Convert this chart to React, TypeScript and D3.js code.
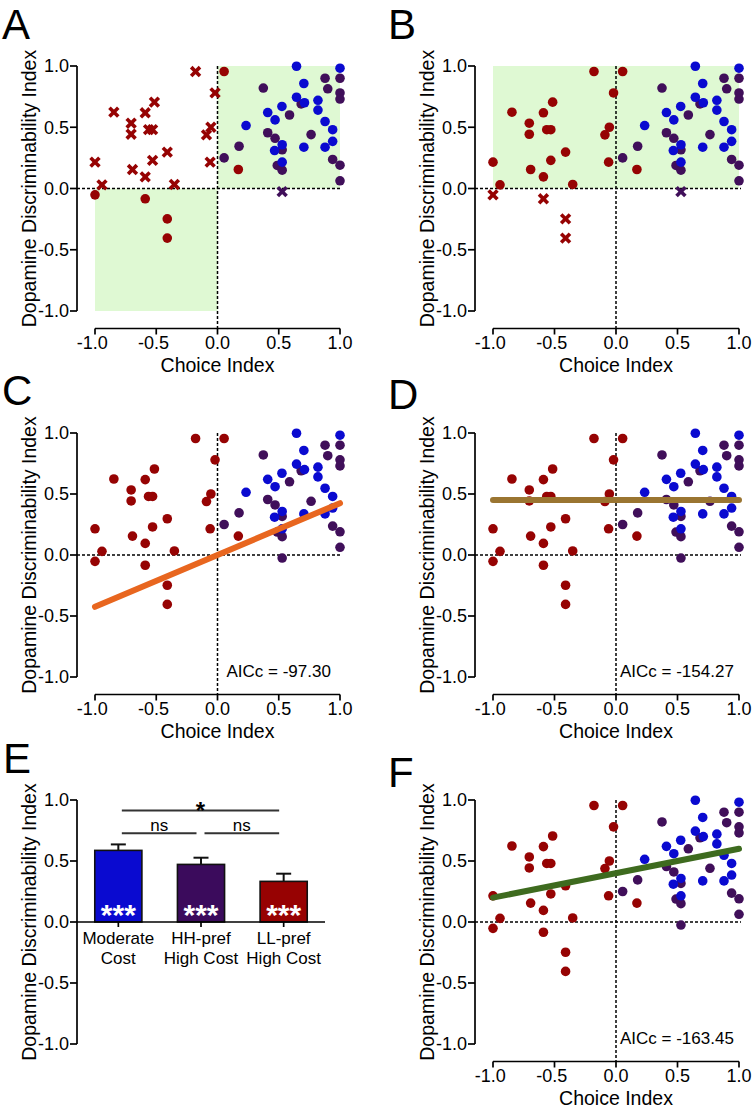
import React from 'react';
import * as d3 from 'd3';

// ---------- DATA ----------
// Low-cost-preferring (LL-pref high cost) animals: dark red
const redX = [-1.0, -0.943, -0.846, -0.705, -0.705, -0.694, -0.59, -0.59, -0.563, -0.53, -0.515, -0.53, -0.41, -0.352, -0.179, -0.02, -0.054, -0.09, -0.06, 0.054, 0.17, -1.0, -0.59, -0.41, -0.41];
const redY = [0.215, 0.03, 0.623, 0.533, 0.443, 0.155, 0.618, 0.095, 0.48, 0.48, 0.705, 0.23, 0.297, 0.033, 0.955, 0.78, 0.5, 0.438, 0.215, 0.955, 0.155, -0.052, -0.084, -0.248, -0.405];
// HH-pref high cost: purple
const purpleX = [0.054, 0.176, 0.374, 0.41, 0.47, 0.588, 0.528, 0.488, 0.528, 0.683, 0.764, 0.878, 0.9, 1.0, 1.0, 1.0, 0.94, 1.0, 1.0, 0.528];
const purpleY = [0.25, 0.345, 0.82, 0.455, 0.41, 0.6, 0.316, 0.188, 0.15, 0.69, 0.44, 0.9, 0.814, 0.9, 0.78, 0.73, 0.237, 0.19, 0.063, -0.025];
// Moderate cost: blue
const blueX = [0.233, 0.41, 0.47, 0.526, 0.466, 0.528, 0.528, 0.645, 0.705, 0.645, 0.71, 0.705, 0.82, 0.82, 0.878, 0.94, 0.94, 0.878, 1.0];
const blueY = [0.514, 0.62, 0.56, 0.67, 0.31, 0.357, 0.215, 0.998, 0.857, 0.745, 0.7, 0.337, 0.72, 0.64, 0.547, 0.48, 0.385, 0.337, 0.982];

const axisTicks = [-1, -0.5, 0, 0.5, 1];

// Model fits (panels C, D, F)
const fitPanels = ['C', 'D', 'F'];
const fitIntercepts = [0.0, 0.45, 0.40];
const fitSlopes = [0.425, 0.0, 0.20];
const fitAICc = ['AICc = -97.30', 'AICc = -154.27', 'AICc = -163.45'];

// Panel E bars
const barLine1 = ['Moderate', 'HH-pref', 'LL-pref'];
const barLine2 = ['Cost', 'High Cost', 'High Cost'];
const barMeans = [0.587, 0.472, 0.333];
const barSEM = [0.049, 0.055, 0.063];
const barStars = ['***', '***', '***'];
const sigFrom = [0, 0, 1];
const sigTo = [2, 1, 2];
const sigLabel = ['*', 'ns', 'ns'];
const sigLevel = [0.914, 0.728, 0.728];

// ---------- STYLE ----------
const RED = '#960303';
const PURPLE = '#400f5a';
const BLUE = '#0a0ad0';
const GREEN_BG = '#dff9d3';
const FIT_COLORS = ['#e8661f', '#9a7531', '#3e6b1f'];
const FONT = '"Liberation Sans", Arial, Helvetica, sans-serif';

type Geo = { x0: number; x1: number; yTop: number; yBot: number; axisX: number };
const GEO: Record<string, Geo> = {
  A: { x0: 95, x1: 340, yTop: 66, yBot: 311, axisX: 77 },
  B: { x0: 493, x1: 739, yTop: 66, yBot: 311, axisX: 475 },
  C: { x0: 95, x1: 340, yTop: 433, yBot: 677, axisX: 77 },
  D: { x0: 493, x1: 739, yTop: 433, yBot: 677, axisX: 475 },
  E: { x0: 77, x1: 325, yTop: 800, yBot: 1044, axisX: 77 },
  F: { x0: 493, x1: 739, yTop: 800, yBot: 1044, axisX: 475 },
};
const LETTERS: [string, number, number][] = [
  ['A', 2, 39], ['B', 388, 39], ['C', 2, 405], ['D', 388, 409], ['E', 3, 773], ['F', 388, 787],
];

const fmt = (v: number) => (v < 0 ? '-' : '') + Math.abs(v).toFixed(1);

type Pt = { x: number; y: number; c: string };
const allPoints: Pt[] = [
  ...redX.map((x, i) => ({ x, y: redY[i], c: RED })),
  ...purpleX.map((x, i) => ({ x, y: purpleY[i], c: PURPLE })),
  ...blueX.map((x, i) => ({ x, y: blueY[i], c: BLUE })),
];

function YAxis({ g, y }: { g: Geo; y: d3.ScaleLinear<number, number> }) {
  return (
    <g>
      <line x1={g.axisX} x2={g.axisX} y1={y(1)} y2={y(-1)} stroke="#000" strokeWidth={1.7} />
      {axisTicks.map((t) => (
        <g key={t}>
          <line x1={g.axisX - 7} x2={g.axisX} y1={y(t)} y2={y(t)} stroke="#000" strokeWidth={1.7} />
          <text x={g.axisX - 8} y={y(t) + 6.3} textAnchor="end" fontSize={18} fontFamily={FONT}>{fmt(t)}</text>
        </g>
      ))}
      <text transform={`translate(${g.axisX - 48.5},${(g.yTop + g.yBot) / 2}) rotate(-90)`} textAnchor="middle" dy={7} fontSize={19.5} fontFamily={FONT}>Dopamine Discriminability Index</text>
    </g>
  );
}

function ScatterPanel({ id }: { id: string }) {
  const g = GEO[id];
  const x = d3.scaleLinear().domain([-1, 1]).range([g.x0, g.x1]);
  const y = d3.scaleLinear().domain([-1, 1]).range([g.yBot, g.yTop]);
  const axisY = g.yBot + 17.5;
  const isCircle = (p: Pt) => {
    if (id === 'A') return (p.x >= 0 && p.y >= 0) || (p.x < 0 && p.y < 0);
    if (id === 'B') return p.y >= 0;
    return true;
  };
  const fi = fitPanels.indexOf(id);
  const line = d3.line<number>().x((v) => x(v)).y((v) => y(fitIntercepts[fi] + fitSlopes[fi] * v));
  const s = 4.4;
  return (
    <g>
      {id === 'A' && (
        <g>
          <rect x={x(0)} y={y(1)} width={x(1) - x(0)} height={y(0) - y(1)} fill={GREEN_BG} />
          <rect x={x(-1)} y={y(0)} width={x(0) - x(-1)} height={y(-1) - y(0)} fill={GREEN_BG} />
        </g>
      )}
      {id === 'B' && <rect x={x(-1)} y={y(1)} width={x(1) - x(-1)} height={y(0) - y(1)} fill={GREEN_BG} />}
      <line x1={g.axisX} x2={x(1) + 2} y1={y(0)} y2={y(0)} stroke="#000" strokeWidth={1.5} strokeDasharray="3,2" />
      <line x1={x(0)} x2={x(0)} y1={y(1)} y2={axisY} stroke="#000" strokeWidth={1.5} strokeDasharray="3,2" />
      {allPoints.map((p, i) =>
        isCircle(p) ? (
          <circle key={i} cx={x(p.x)} cy={y(p.y)} r={4.8} fill={p.c} />
        ) : (
          <g key={i} stroke={p.c} strokeWidth={3.6}>
            <line x1={x(p.x) - s} x2={x(p.x) + s} y1={y(p.y) - s} y2={y(p.y) + s} />
            <line x1={x(p.x) - s} x2={x(p.x) + s} y1={y(p.y) + s} y2={y(p.y) - s} />
          </g>
        )
      )}
      {fi >= 0 && (
        <g>
          <path d={line([-1, 1]) || ''} stroke={FIT_COLORS[fi]} strokeWidth={6} fill="none" strokeLinecap="round" />
          <text x={x(0) + (id === 'C' ? 9 : 4)} y={y(-1)} fontSize={17} fontFamily={FONT}>{fitAICc[fi]}</text>
        </g>
      )}
      <YAxis g={g} y={y} />
      <line x1={x(-1)} x2={x(1)} y1={axisY} y2={axisY} stroke="#000" strokeWidth={1.7} />
      {axisTicks.map((t) => (
        <g key={t}>
          <line x1={x(t)} x2={x(t)} y1={axisY} y2={axisY + 6} stroke="#000" strokeWidth={1.7} />
          <text x={x(t) - (t < 0 ? 2.8 : 0)} y={axisY + 20.5} textAnchor="middle" fontSize={18} fontFamily={FONT}>{fmt(t)}</text>
        </g>
      ))}
      <text x={x(0)} y={axisY + 43} textAnchor="middle" fontSize={19.5} fontFamily={FONT}>Choice Index</text>
    </g>
  );
}

function BarPanel() {
  const g = GEO.E;
  const y = d3.scaleLinear().domain([-1, 1]).range([g.yBot, g.yTop]);
  const xb = d3.scaleBand<number>().domain([0, 1, 2]).range([g.x0, g.x1]).paddingInner(0.43).paddingOuter(0.215);
  const colors = [BLUE, '#3b0b5c', '#970202'];
  const cx = (i: number) => (xb(i) as number) + xb.bandwidth() / 2;
  return (
    <g>
      {barMeans.map((m, i) => (
        <g key={i}>
          <line x1={cx(i)} x2={cx(i)} y1={y(m)} y2={y(m + barSEM[i])} stroke="#111" strokeWidth={2} />
          <line x1={cx(i) - 7.5} x2={cx(i) + 7.5} y1={y(m + barSEM[i])} y2={y(m + barSEM[i])} stroke="#111" strokeWidth={2} />
          <rect x={xb(i)} y={y(m)} width={xb.bandwidth()} height={y(0) - y(m)} fill={colors[i]} stroke="#111" strokeWidth={1.6} />
          <text x={cx(i)} y={y(0) + 3} textAnchor="middle" fontSize={30} fontWeight="bold" fill="#fff" fontFamily={FONT}>{barStars[i]}</text>
          <line x1={cx(i)} x2={cx(i)} y1={y(0)} y2={y(0) + 5} stroke="#000" strokeWidth={1.7} />
          <text x={cx(i)} y={y(0) + 21.5} textAnchor="middle" fontSize={17} fontFamily={FONT}>{barLine1[i]}</text>
          <text x={cx(i)} y={y(0) + 41.5} textAnchor="middle" fontSize={17} fontFamily={FONT}>{barLine2[i]}</text>
        </g>
      ))}
      {sigLabel.map((s, k) => {
        const x1 = cx(sigFrom[k]) + 3.5;
        const x2 = cx(sigTo[k]) - 4.5;
        return (
          <g key={k}>
            <line x1={x1} x2={x2} y1={y(sigLevel[k])} y2={y(sigLevel[k])} stroke="#333" strokeWidth={2} />
            {s === '*' ? (
              <text x={(x1 + x2) / 2} y={y(sigLevel[k]) + 9} textAnchor="middle" fontSize={24} fontWeight="bold" fontFamily={FONT}>{s}</text>
            ) : (
              <text x={(x1 + x2) / 2} y={y(sigLevel[k]) - 2} textAnchor="middle" fontSize={17} fontFamily={FONT}>{s}</text>
            )}
          </g>
        );
      })}
      <line x1={g.axisX} x2={g.x1} y1={y(0)} y2={y(0)} stroke="#000" strokeWidth={1.7} />
      <YAxis g={g} y={y} />
    </g>
  );
}

export default function App() {
  return (
    <svg width={752} height={1108} style={{ position: 'absolute', left: 0, top: 0, background: '#fff' }}>
      <rect width={752} height={1108} fill="#fff" />
      {['A', 'B', 'C', 'D', 'F'].map((id) => (
        <ScatterPanel key={id} id={id} />
      ))}
      <BarPanel />
      {LETTERS.map(([l, lx, ly]) => (
        <text key={l} x={lx} y={ly} fontSize={42} fontFamily={FONT}>{l}</text>
      ))}
    </svg>
  );
}
